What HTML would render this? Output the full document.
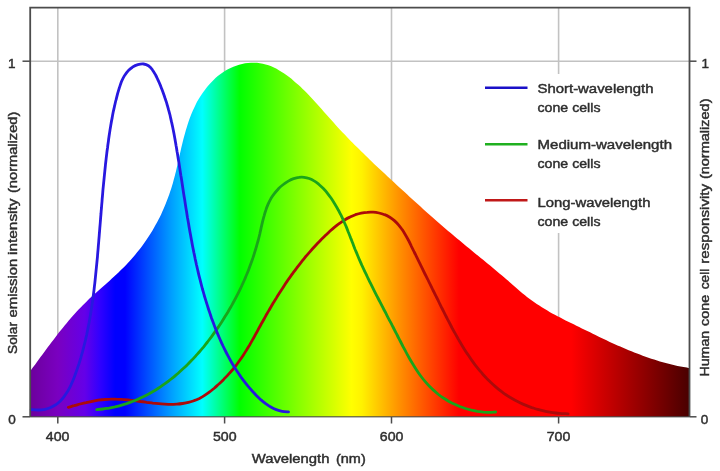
<!DOCTYPE html>
<html><head><meta charset="utf-8"><title>Solar emission and cone cell responsivity</title>
<style>
html,body{margin:0;padding:0;background:#fff;}
body{width:720px;height:471px;overflow:hidden;}
svg{display:block;}
text{font-family:"Liberation Sans",sans-serif;fill:#2e2e2e;stroke:#2e2e2e;stroke-width:0.45px;}
</style></head><body>
<svg width="720" height="471" viewBox="0 0 720 471">
<defs>
<linearGradient id="sg" gradientUnits="userSpaceOnUse" x1="30" y1="0" x2="690" y2="0">
<stop offset="0" stop-color="#6c009c"/>
<stop offset="0.042" stop-color="#7a00c0"/>
<stop offset="0.083" stop-color="#6400e8"/>
<stop offset="0.106" stop-color="#3000ff"/>
<stop offset="0.129" stop-color="#0000ff"/>
<stop offset="0.144" stop-color="#0000ff"/>
<stop offset="0.215" stop-color="#00a0ff"/>
<stop offset="0.261" stop-color="#00ffff"/>
<stop offset="0.318" stop-color="#00ff00"/>
<stop offset="0.487" stop-color="#ffff00"/>
<stop offset="0.503" stop-color="#fff200"/>
<stop offset="0.56" stop-color="#ff9000"/>
<stop offset="0.65" stop-color="#ff0000"/>
<stop offset="0.82" stop-color="#ff0000"/>
<stop offset="1" stop-color="#480000"/>
</linearGradient>
</defs>
<rect width="720" height="471" fill="#fff"/>
<!-- grid -->
<g stroke="#c2c2c2" stroke-width="1.6" fill="none">
<line x1="57.8" y1="8" x2="57.8" y2="417"/>
<line x1="224.6" y1="8" x2="224.6" y2="417"/>
<line x1="391.5" y1="8" x2="391.5" y2="417"/>
<line x1="558.6" y1="8" x2="558.6" y2="417"/>
<line x1="30" y1="61.2" x2="690" y2="61.2"/>
</g>
<rect x="480" y="74" width="205" height="159" fill="#fff"/>
<path d="M30.0,371.5C30.6,370.7 32.4,368.3 33.6,366.6C34.8,365.0 36.0,363.4 37.1,361.7C38.3,360.1 39.5,358.5 40.7,356.8C41.9,355.2 43.1,353.6 44.3,351.9C45.5,350.3 46.7,348.7 47.9,347.1C49.1,345.4 50.3,343.8 51.5,342.2C52.7,340.6 54.0,339.0 55.2,337.4C56.4,335.8 57.7,334.2 58.9,332.6C60.2,331.0 61.4,329.4 62.7,327.9C64.0,326.3 65.3,324.7 66.6,323.2C67.9,321.6 69.2,320.1 70.5,318.6C71.8,317.0 73.1,315.5 74.5,314.0C75.8,312.5 77.2,311.0 78.6,309.6C80.0,308.1 81.3,306.6 82.8,305.2C84.2,303.8 85.6,302.3 87.1,300.9C88.5,299.5 90.0,298.2 91.5,296.8C92.9,295.4 94.4,294.1 96.0,292.7C97.5,291.4 99.0,290.0 100.5,288.7C102.0,287.3 103.5,286.0 105.1,284.7C106.6,283.3 108.1,282.0 109.6,280.7C111.1,279.3 112.6,278.0 114.1,276.6C115.6,275.2 117.0,273.8 118.5,272.4C119.9,271.0 121.4,269.6 122.8,268.2C124.2,266.8 125.6,265.3 127.0,263.9C128.4,262.4 129.7,260.9 131.1,259.4C132.4,257.9 133.7,256.4 135.0,254.9C136.3,253.3 137.6,251.8 138.8,250.2C140.1,248.6 141.3,247.0 142.5,245.4C143.7,243.8 144.8,242.2 146.0,240.5C147.1,238.9 148.2,237.2 149.3,235.5C150.4,233.8 151.5,232.1 152.5,230.4C153.5,228.7 154.5,226.9 155.5,225.1C156.5,223.4 157.5,221.6 158.4,219.8C159.3,218.0 160.2,216.2 161.1,214.4C161.9,212.5 162.8,210.7 163.6,208.8C164.4,207.0 165.2,205.1 165.9,203.2C166.7,201.4 167.4,199.5 168.1,197.6C168.8,195.7 169.5,193.7 170.1,191.8C170.8,189.9 171.4,188.0 172.0,186.0C172.6,184.1 173.1,182.1 173.6,180.2C174.2,178.2 174.7,176.2 175.2,174.3C175.7,172.3 176.2,170.3 176.6,168.4C177.1,166.4 177.5,164.4 178.0,162.4C178.5,160.4 178.9,158.5 179.3,156.5C179.8,154.5 180.2,152.5 180.7,150.5C181.1,148.6 181.6,146.6 182.1,144.6C182.5,142.7 183.0,140.7 183.5,138.8C184.0,136.8 184.5,134.9 185.1,132.9C185.6,131.0 186.2,129.1 186.8,127.2C187.4,125.3 188.0,123.3 188.6,121.5C189.3,119.6 190.0,117.7 190.7,115.8C191.4,114.0 192.2,112.1 193.0,110.3C193.8,108.5 194.6,106.7 195.5,104.9C196.4,103.1 197.4,101.3 198.4,99.6C199.4,97.8 200.5,96.1 201.6,94.4C202.7,92.7 203.9,91.0 205.2,89.4C206.4,87.8 207.7,86.2 209.0,84.7C210.4,83.1 211.8,81.6 213.3,80.2C214.7,78.8 216.2,77.4 217.8,76.1C219.4,74.8 221.0,73.6 222.7,72.5C224.4,71.3 226.1,70.3 227.9,69.3C229.7,68.3 231.5,67.5 233.4,66.7C235.3,65.9 237.2,65.2 239.1,64.7C241.1,64.1 243.1,63.7 245.1,63.3C247.0,63.0 249.0,62.8 251.0,62.7C253.0,62.6 255.0,62.6 257.0,62.8C258.9,63.0 260.9,63.3 262.8,63.7C264.7,64.1 266.6,64.7 268.5,65.3C270.3,65.9 272.2,66.7 273.9,67.6C275.7,68.4 277.5,69.4 279.2,70.4C280.9,71.4 282.6,72.5 284.2,73.6C285.9,74.7 287.5,75.9 289.1,77.1C290.7,78.3 292.2,79.6 293.8,80.9C295.3,82.2 296.8,83.5 298.3,84.8C299.8,86.2 301.3,87.6 302.7,89.0C304.2,90.4 305.6,91.8 307.1,93.3C308.5,94.7 309.9,96.2 311.3,97.7C312.7,99.2 314.1,100.7 315.4,102.2C316.8,103.7 318.2,105.3 319.5,106.8C320.9,108.3 322.3,109.9 323.6,111.4C325.0,113.0 326.3,114.5 327.7,116.0C329.0,117.6 330.4,119.1 331.8,120.6C333.1,122.2 334.5,123.7 335.9,125.2C337.2,126.7 338.6,128.2 340.0,129.7C341.4,131.2 342.8,132.6 344.2,134.1C345.6,135.6 347.0,137.0 348.4,138.5C349.8,139.9 351.2,141.4 352.6,142.8C354.0,144.2 355.4,145.7 356.9,147.1C358.3,148.5 359.7,149.9 361.1,151.3C362.6,152.7 364.0,154.1 365.5,155.5C366.9,156.9 368.3,158.3 369.8,159.7C371.2,161.1 372.7,162.5 374.1,163.9C375.6,165.2 377.1,166.6 378.5,168.0C380.0,169.4 381.4,170.7 382.9,172.1C384.4,173.5 385.8,174.8 387.3,176.2C388.8,177.6 390.3,178.9 391.7,180.3C393.2,181.7 394.7,183.0 396.2,184.4C397.6,185.8 399.1,187.1 400.6,188.5C402.1,189.9 403.6,191.2 405.1,192.6C406.5,194.0 408.0,195.3 409.5,196.7C411.0,198.0 412.5,199.4 414.0,200.8C415.5,202.1 417.0,203.5 418.5,204.8C420.0,206.2 421.5,207.5 423.0,208.9C424.5,210.2 426.0,211.6 427.5,212.9C429.1,214.3 430.6,215.6 432.1,216.9C433.6,218.3 435.1,219.6 436.6,220.9C438.2,222.3 439.7,223.6 441.2,224.9C442.7,226.3 444.3,227.6 445.8,228.9C447.3,230.2 448.9,231.5 450.4,232.8C452.0,234.1 453.5,235.4 455.0,236.8C456.6,238.1 458.1,239.4 459.7,240.6C461.2,241.9 462.8,243.2 464.3,244.5C465.9,245.8 467.5,247.1 469.0,248.3C470.6,249.6 472.1,250.9 473.7,252.2C475.3,253.5 476.8,254.7 478.4,256.0C480.0,257.3 481.5,258.5 483.1,259.8C484.6,261.1 486.2,262.4 487.8,263.7C489.3,264.9 490.9,266.2 492.4,267.5C494.0,268.8 495.5,270.1 497.1,271.4C498.6,272.7 500.2,274.0 501.7,275.3C503.3,276.6 504.8,277.9 506.3,279.2C507.9,280.5 509.4,281.9 510.9,283.2C512.4,284.5 513.9,285.9 515.5,287.2C517.0,288.6 518.5,289.9 520.0,291.2C521.6,292.5 523.1,293.8 524.7,295.1C526.2,296.4 527.8,297.6 529.4,298.8C531.0,300.0 532.7,301.2 534.3,302.3C535.9,303.4 537.6,304.6 539.3,305.6C541.0,306.7 542.7,307.8 544.4,308.8C546.1,309.8 547.9,310.9 549.6,311.9C551.3,312.8 553.1,313.8 554.9,314.8C556.6,315.7 558.4,316.7 560.2,317.6C562.0,318.5 563.8,319.5 565.6,320.4C567.4,321.3 569.2,322.2 571.0,323.1C572.8,324.0 574.6,324.9 576.4,325.8C578.3,326.7 580.1,327.6 581.9,328.5C583.7,329.4 585.5,330.3 587.3,331.1C589.2,332.0 591.0,332.9 592.8,333.8C594.6,334.7 596.4,335.6 598.3,336.5C600.1,337.3 601.9,338.2 603.7,339.1C605.6,339.9 607.4,340.8 609.2,341.7C611.1,342.5 612.9,343.3 614.8,344.2C616.6,345.0 618.4,345.8 620.3,346.6C622.1,347.4 624.0,348.2 625.9,349.0C627.7,349.8 629.6,350.6 631.5,351.3C633.3,352.1 635.2,352.8 637.1,353.6C639.0,354.3 640.8,355.0 642.7,355.7C644.6,356.4 646.5,357.1 648.4,357.7C650.3,358.4 652.2,359.0 654.1,359.6C656.1,360.2 658.0,360.8 659.9,361.4C661.9,362.0 663.8,362.5 665.7,363.0C667.7,363.5 669.6,364.0 671.6,364.5C673.6,365.0 675.5,365.4 677.5,365.9C679.5,366.3 681.5,366.7 683.5,367.0C685.5,367.4 688.5,367.9 689.5,368.1L689.5,417L30,417Z" fill="url(#sg)"/>
<g fill="none" stroke-width="2.8" stroke-linecap="round" stroke-linejoin="round">
<path d="M68.3,407.3C69.3,407.1 72.2,406.2 74.2,405.7C76.2,405.1 78.2,404.6 80.2,404.0C82.2,403.5 84.2,403.0 86.2,402.6C88.2,402.1 90.2,401.7 92.2,401.3C94.2,400.9 96.2,400.5 98.2,400.2C100.2,399.9 102.2,399.6 104.2,399.5C106.2,399.3 108.2,399.1 110.2,399.1C112.2,399.0 114.2,399.0 116.2,399.1C118.2,399.1 120.2,399.2 122.2,399.4C124.2,399.5 126.2,399.7 128.2,399.9C130.3,400.1 132.3,400.4 134.3,400.6C136.3,400.9 138.3,401.2 140.4,401.5C142.4,401.7 144.4,402.0 146.5,402.3C148.5,402.5 150.5,402.8 152.6,403.1C154.6,403.3 156.7,403.5 158.7,403.7C160.7,403.9 162.8,404.0 164.8,404.1C166.8,404.2 168.8,404.3 170.8,404.3C172.8,404.3 174.8,404.2 176.8,404.1C178.7,404.0 180.7,403.8 182.6,403.5C184.6,403.2 186.5,402.9 188.4,402.4C190.3,401.9 192.1,401.4 194.0,400.7C195.8,400.1 197.6,399.3 199.4,398.4C201.1,397.5 202.9,396.5 204.6,395.4C206.3,394.3 208.0,393.2 209.6,391.9C211.3,390.7 212.9,389.3 214.5,388.0C216.1,386.6 217.6,385.2 219.2,383.8C220.7,382.4 222.2,380.9 223.7,379.4C225.1,377.9 226.6,376.4 228.0,374.9C229.4,373.4 230.7,371.8 232.1,370.3C233.4,368.7 234.7,367.1 236.0,365.5C237.2,363.8 238.4,362.2 239.6,360.5C240.8,358.9 242.0,357.2 243.1,355.5C244.2,353.8 245.3,352.1 246.3,350.4C247.4,348.7 248.4,346.9 249.5,345.2C250.5,343.5 251.5,341.7 252.5,339.9C253.5,338.2 254.5,336.4 255.4,334.6C256.4,332.9 257.4,331.1 258.3,329.3C259.3,327.6 260.3,325.8 261.2,324.0C262.2,322.3 263.2,320.5 264.2,318.7C265.2,317.0 266.1,315.2 267.1,313.5C268.1,311.7 269.2,310.0 270.2,308.2C271.2,306.5 272.2,304.8 273.2,303.0C274.3,301.3 275.3,299.6 276.4,297.9C277.4,296.2 278.5,294.5 279.6,292.8C280.7,291.1 281.8,289.4 282.9,287.7C284.0,286.0 285.1,284.3 286.2,282.6C287.3,281.0 288.5,279.3 289.7,277.7C290.8,276.0 292.0,274.4 293.2,272.7C294.4,271.1 295.6,269.5 296.8,267.9C298.0,266.2 299.3,264.6 300.5,263.1C301.8,261.5 303.0,259.9 304.3,258.3C305.6,256.7 306.9,255.2 308.3,253.6C309.6,252.1 311.0,250.5 312.3,249.0C313.7,247.5 315.1,246.0 316.5,244.5C317.9,243.0 319.4,241.5 320.8,240.0C322.3,238.5 323.8,237.1 325.3,235.6C326.8,234.2 328.3,232.7 329.8,231.3C331.4,229.9 333.0,228.5 334.6,227.2C336.2,225.9 337.8,224.6 339.5,223.4C341.2,222.2 342.9,221.0 344.6,220.0C346.3,218.9 348.1,217.9 349.9,217.1C351.7,216.2 353.6,215.4 355.4,214.7C357.3,214.1 359.3,213.5 361.2,213.1C363.2,212.7 365.2,212.4 367.2,212.3C369.2,212.1 371.2,212.1 373.1,212.2C375.1,212.3 377.1,212.6 379.0,213.0C380.9,213.4 382.8,214.0 384.6,214.7C386.4,215.3 388.1,216.2 389.8,217.2C391.4,218.2 392.9,219.3 394.4,220.6C395.8,221.9 397.2,223.3 398.5,224.8C399.8,226.3 401.0,228.0 402.2,229.6C403.3,231.3 404.4,233.1 405.5,234.9C406.6,236.7 407.6,238.6 408.6,240.5C409.6,242.4 410.5,244.4 411.4,246.3C412.4,248.2 413.3,250.1 414.2,252.0C415.2,253.9 416.1,255.8 417.0,257.6C417.9,259.5 418.8,261.3 419.7,263.1C420.6,265.0 421.5,266.8 422.4,268.6C423.2,270.4 424.1,272.2 425.0,274.0C425.9,275.8 426.8,277.5 427.7,279.3C428.5,281.1 429.4,282.9 430.3,284.6C431.2,286.4 432.1,288.2 432.9,290.0C433.8,291.7 434.7,293.5 435.6,295.3C436.5,297.1 437.4,298.9 438.3,300.7C439.1,302.5 440.0,304.3 440.9,306.1C441.8,307.9 442.8,309.7 443.7,311.6C444.6,313.4 445.5,315.2 446.4,317.0C447.4,318.9 448.3,320.7 449.3,322.5C450.2,324.3 451.2,326.2 452.1,328.0C453.1,329.8 454.1,331.6 455.1,333.4C456.1,335.2 457.1,337.0 458.1,338.8C459.2,340.6 460.2,342.4 461.3,344.2C462.3,345.9 463.4,347.7 464.5,349.4C465.6,351.2 466.7,352.9 467.9,354.6C469.0,356.3 470.1,358.0 471.3,359.6C472.5,361.3 473.7,363.0 474.9,364.6C476.2,366.2 477.4,367.8 478.7,369.3C480.0,370.9 481.3,372.4 482.6,374.0C483.9,375.5 485.3,376.9 486.7,378.4C488.1,379.8 489.5,381.2 490.9,382.6C492.4,384.0 493.9,385.3 495.4,386.6C496.9,387.9 498.4,389.2 500.0,390.4C501.6,391.7 503.2,392.8 504.8,394.0C506.5,395.1 508.2,396.2 509.9,397.3C511.6,398.3 513.3,399.3 515.1,400.3C516.9,401.2 518.7,402.1 520.5,403.0C522.4,403.9 524.2,404.7 526.1,405.4C528.0,406.2 529.9,406.9 531.8,407.6C533.8,408.2 535.7,408.9 537.7,409.4C539.6,410.0 541.6,410.5 543.6,410.9C545.6,411.4 547.6,411.8 549.7,412.1C551.7,412.5 553.7,412.8 555.8,413.0C557.8,413.3 559.9,413.4 561.9,413.6C564.0,413.7 567.1,413.7 568.1,413.8" stroke="#ac0a0a"/>
<path d="M96.7,409.7C97.8,409.6 100.9,409.3 103.0,409.0C105.0,408.8 107.0,408.4 109.1,408.1C111.1,407.7 113.1,407.3 115.0,406.9C117.0,406.4 119.0,405.9 120.9,405.3C122.9,404.8 124.8,404.2 126.7,403.6C128.6,402.9 130.5,402.2 132.4,401.5C134.2,400.8 136.1,400.0 137.9,399.2C139.7,398.4 141.5,397.6 143.3,396.7C145.1,395.8 146.9,394.9 148.7,394.0C150.4,393.0 152.1,392.0 153.9,391.0C155.6,390.0 157.3,388.9 159.0,387.8C160.6,386.7 162.3,385.6 163.9,384.4C165.6,383.3 167.2,382.1 168.8,380.9C170.4,379.6 172.0,378.4 173.6,377.1C175.1,375.8 176.7,374.5 178.2,373.2C179.7,371.9 181.2,370.5 182.7,369.1C184.2,367.7 185.7,366.3 187.1,364.9C188.6,363.5 190.0,362.0 191.4,360.5C192.9,359.1 194.3,357.6 195.6,356.1C197.0,354.5 198.4,353.0 199.7,351.5C201.0,349.9 202.4,348.3 203.7,346.8C205.0,345.2 206.2,343.6 207.5,342.0C208.8,340.3 210.0,338.7 211.2,337.1C212.4,335.4 213.6,333.8 214.8,332.1C216.0,330.4 217.2,328.7 218.3,327.1C219.5,325.4 220.6,323.7 221.7,322.0C222.8,320.3 223.9,318.6 224.9,316.8C226.0,315.1 227.1,313.4 228.1,311.7C229.1,309.9 230.1,308.2 231.1,306.5C232.1,304.7 233.1,303.0 234.0,301.2C235.0,299.5 235.9,297.7 236.8,295.9C237.7,294.2 238.6,292.4 239.5,290.6C240.4,288.8 241.2,287.0 242.0,285.2C242.9,283.4 243.7,281.6 244.5,279.8C245.3,278.0 246.0,276.1 246.8,274.3C247.6,272.4 248.3,270.6 249.0,268.7C249.7,266.9 250.4,265.0 251.1,263.1C251.8,261.2 252.4,259.4 253.1,257.4C253.7,255.5 254.3,253.6 254.9,251.7C255.5,249.8 256.1,247.8 256.6,245.9C257.2,243.9 257.7,242.0 258.3,240.0C258.8,238.0 259.3,236.0 259.8,234.0C260.2,232.0 260.7,230.0 261.1,227.9C261.6,225.9 262.0,223.9 262.5,221.9C263.0,219.8 263.5,217.8 264.1,215.8C264.6,213.8 265.2,211.8 265.9,209.9C266.5,207.9 267.3,206.0 268.1,204.1C268.9,202.2 269.9,200.4 270.9,198.6C272.0,196.8 273.2,195.0 274.5,193.4C275.7,191.7 277.2,190.1 278.6,188.6C280.1,187.1 281.7,185.7 283.3,184.5C284.9,183.2 286.6,182.1 288.3,181.1C290.1,180.1 291.8,179.3 293.6,178.7C295.4,178.1 297.1,177.6 298.9,177.4C300.7,177.1 302.4,177.1 304.1,177.3C305.9,177.5 307.6,177.9 309.2,178.5C310.9,179.1 312.5,179.9 314.1,180.9C315.7,181.8 317.2,183.0 318.7,184.2C320.2,185.5 321.7,186.9 323.1,188.3C324.6,189.8 326.0,191.4 327.3,193.1C328.6,194.8 329.9,196.5 331.2,198.3C332.4,200.1 333.6,202.0 334.8,203.9C335.9,205.7 337.0,207.6 338.0,209.5C339.1,211.4 340.0,213.3 341.0,215.2C341.9,217.1 342.8,219.0 343.6,220.8C344.5,222.7 345.3,224.6 346.1,226.4C346.9,228.3 347.6,230.2 348.3,232.0C349.1,233.9 349.8,235.7 350.5,237.6C351.3,239.4 352.0,241.3 352.7,243.1C353.4,245.0 354.1,246.8 354.8,248.7C355.6,250.5 356.3,252.3 357.1,254.1C357.9,256.0 358.6,257.8 359.4,259.6C360.2,261.4 361.0,263.2 361.8,265.1C362.7,266.9 363.5,268.7 364.3,270.5C365.2,272.3 366.0,274.1 366.9,275.9C367.8,277.7 368.6,279.5 369.5,281.3C370.4,283.1 371.3,284.9 372.2,286.7C373.1,288.5 374.0,290.3 374.9,292.1C375.8,293.9 376.7,295.7 377.7,297.5C378.6,299.3 379.5,301.1 380.5,302.9C381.4,304.7 382.3,306.5 383.3,308.3C384.2,310.1 385.2,311.9 386.1,313.7C387.0,315.6 388.0,317.4 388.9,319.2C389.9,321.0 390.8,322.8 391.8,324.6C392.7,326.4 393.7,328.2 394.6,330.1C395.5,331.9 396.5,333.7 397.4,335.5C398.3,337.4 399.3,339.2 400.2,341.0C401.1,342.8 402.1,344.7 403.0,346.5C404.0,348.3 404.9,350.1 405.9,351.9C406.9,353.7 407.8,355.5 408.8,357.3C409.8,359.1 410.8,360.8 411.9,362.6C412.9,364.3 414.0,366.0 415.1,367.7C416.2,369.4 417.3,371.1 418.4,372.7C419.5,374.3 420.7,376.0 421.9,377.5C423.1,379.1 424.4,380.6 425.7,382.1C427.0,383.6 428.3,385.1 429.7,386.5C431.1,387.9 432.5,389.3 434.0,390.6C435.4,392.0 437.0,393.3 438.5,394.5C440.1,395.7 441.8,396.9 443.4,398.0C445.1,399.1 446.9,400.2 448.6,401.2C450.4,402.2 452.2,403.2 454.1,404.0C455.9,404.9 457.8,405.7 459.7,406.5C461.6,407.2 463.6,407.9 465.5,408.5C467.5,409.2 469.4,409.7 471.4,410.2C473.4,410.6 475.4,411.0 477.5,411.4C479.5,411.7 481.5,411.9 483.5,412.1C485.5,412.2 487.6,412.3 489.6,412.3C491.6,412.3 494.6,412.0 495.6,412.0" stroke="#1aa41a"/>
<path d="M31.2,409.6C32.4,409.7 36.2,410.1 38.5,410.0C40.8,410.0 43.0,409.7 45.0,409.3C47.0,408.9 48.9,408.3 50.7,407.5C52.5,406.7 54.1,405.8 55.7,404.8C57.3,403.7 58.7,402.5 60.1,401.2C61.4,399.9 62.7,398.5 63.9,396.9C65.0,395.4 66.1,393.8 67.2,392.1C68.2,390.4 69.2,388.7 70.1,386.9C71.0,385.1 71.8,383.2 72.6,381.3C73.4,379.4 74.2,377.4 74.9,375.5C75.6,373.5 76.3,371.6 77.0,369.6C77.7,367.6 78.3,365.7 79.0,363.7C79.6,361.8 80.2,359.8 80.8,357.8C81.3,355.9 81.9,353.9 82.5,351.9C83.0,350.0 83.5,348.0 84.0,346.0C84.5,344.1 85.0,342.1 85.5,340.1C85.9,338.1 86.4,336.2 86.8,334.2C87.2,332.2 87.6,330.2 88.0,328.3C88.4,326.3 88.8,324.3 89.2,322.3C89.5,320.3 89.9,318.3 90.2,316.4C90.6,314.4 90.9,312.4 91.2,310.4C91.5,308.4 91.8,306.4 92.1,304.4C92.4,302.4 92.7,300.4 92.9,298.5C93.2,296.5 93.5,294.5 93.7,292.5C94.0,290.5 94.2,288.5 94.4,286.5C94.7,284.5 94.9,282.5 95.1,280.4C95.3,278.4 95.5,276.4 95.7,274.4C95.9,272.4 96.1,270.4 96.3,268.4C96.5,266.4 96.7,264.4 96.9,262.3C97.1,260.3 97.3,258.3 97.5,256.3C97.6,254.3 97.8,252.2 98.0,250.2C98.2,248.2 98.3,246.2 98.5,244.2C98.7,242.1 98.8,240.1 99.0,238.1C99.2,236.0 99.3,234.0 99.5,232.0C99.7,230.0 99.8,227.9 100.0,225.9C100.2,223.9 100.3,221.9 100.5,219.8C100.6,217.8 100.8,215.8 101.0,213.7C101.1,211.7 101.3,209.7 101.5,207.7C101.6,205.6 101.8,203.6 102.0,201.6C102.1,199.6 102.3,197.5 102.5,195.5C102.7,193.5 102.8,191.5 103.0,189.4C103.2,187.4 103.4,185.4 103.6,183.4C103.8,181.4 104.0,179.3 104.2,177.3C104.4,175.3 104.6,173.3 104.8,171.3C105.0,169.3 105.2,167.3 105.4,165.3C105.6,163.2 105.9,161.2 106.1,159.2C106.3,157.2 106.6,155.2 106.8,153.2C107.0,151.2 107.3,149.2 107.6,147.2C107.8,145.3 108.1,143.3 108.4,141.3C108.6,139.3 108.9,137.3 109.2,135.3C109.5,133.3 109.8,131.4 110.1,129.4C110.4,127.4 110.8,125.4 111.1,123.5C111.4,121.5 111.8,119.5 112.2,117.6C112.5,115.6 112.9,113.6 113.3,111.6C113.7,109.7 114.2,107.7 114.6,105.7C115.1,103.7 115.5,101.7 116.1,99.7C116.6,97.7 117.1,95.7 117.6,93.7C118.2,91.7 118.8,89.6 119.4,87.6C120.1,85.6 120.7,83.6 121.5,81.6C122.3,79.7 123.2,77.8 124.2,76.1C125.3,74.3 126.4,72.6 127.8,71.2C129.1,69.7 130.7,68.3 132.4,67.2C134.0,66.1 136.0,65.1 137.9,64.6C139.8,64.1 141.8,63.8 143.6,64.0C145.3,64.2 147.1,64.9 148.5,65.8C150.0,66.8 151.3,68.2 152.4,69.8C153.6,71.3 154.6,73.2 155.6,75.0C156.6,76.8 157.4,78.8 158.3,80.7C159.2,82.6 160.0,84.5 160.8,86.4C161.5,88.3 162.3,90.3 163.0,92.2C163.7,94.1 164.4,96.0 165.0,98.0C165.7,99.9 166.3,101.9 166.9,103.8C167.4,105.7 168.0,107.7 168.5,109.7C169.1,111.6 169.6,113.6 170.1,115.5C170.5,117.5 171.0,119.5 171.4,121.4C171.9,123.4 172.3,125.4 172.7,127.3C173.1,129.3 173.5,131.3 173.9,133.3C174.3,135.3 174.6,137.2 175.0,139.2C175.3,141.2 175.7,143.2 176.0,145.2C176.4,147.2 176.7,149.2 177.0,151.2C177.4,153.2 177.7,155.2 178.0,157.2C178.3,159.2 178.7,161.2 179.0,163.2C179.3,165.2 179.6,167.2 179.9,169.2C180.2,171.2 180.5,173.2 180.8,175.2C181.2,177.2 181.5,179.2 181.8,181.2C182.1,183.2 182.4,185.2 182.7,187.2C183.0,189.2 183.3,191.2 183.6,193.2C183.9,195.2 184.2,197.2 184.6,199.2C184.9,201.2 185.2,203.2 185.5,205.2C185.8,207.2 186.1,209.2 186.5,211.2C186.8,213.2 187.1,215.2 187.4,217.2C187.8,219.2 188.1,221.2 188.5,223.2C188.8,225.2 189.1,227.2 189.5,229.2C189.8,231.2 190.2,233.2 190.6,235.2C190.9,237.2 191.3,239.2 191.7,241.2C192.0,243.2 192.4,245.2 192.8,247.2C193.2,249.1 193.6,251.1 194.0,253.1C194.4,255.1 194.8,257.1 195.2,259.1C195.7,261.0 196.1,263.0 196.5,265.0C197.0,266.9 197.4,268.9 197.9,270.9C198.3,272.8 198.8,274.8 199.3,276.8C199.8,278.7 200.3,280.7 200.8,282.6C201.3,284.6 201.8,286.5 202.3,288.5C202.9,290.4 203.4,292.4 204.0,294.3C204.5,296.3 205.1,298.2 205.7,300.1C206.3,302.1 206.9,304.0 207.5,305.9C208.1,307.8 208.7,309.8 209.4,311.7C210.0,313.6 210.7,315.5 211.3,317.4C212.0,319.3 212.7,321.2 213.4,323.1C214.1,325.0 214.9,326.9 215.6,328.8C216.3,330.7 217.1,332.5 217.9,334.4C218.7,336.3 219.5,338.1 220.3,340.0C221.1,341.9 222.0,343.7 222.8,345.5C223.7,347.4 224.6,349.2 225.5,351.0C226.4,352.8 227.3,354.6 228.3,356.4C229.2,358.2 230.2,360.0 231.2,361.7C232.2,363.5 233.2,365.2 234.3,367.0C235.4,368.7 236.5,370.4 237.6,372.1C238.7,373.8 239.8,375.4 241.0,377.1C242.2,378.7 243.4,380.3 244.6,381.9C245.8,383.5 247.1,385.1 248.4,386.7C249.7,388.2 251.0,389.7 252.4,391.2C253.8,392.7 255.2,394.2 256.6,395.7C258.0,397.1 259.5,398.5 261.0,399.9C262.5,401.2 264.1,402.5 265.7,403.7C267.4,404.9 269.0,406.0 270.8,407.0C272.5,408.0 274.3,408.9 276.2,409.6C278.1,410.3 280.0,410.9 282.1,411.3C284.1,411.7 287.4,411.8 288.5,411.9" stroke="#2818e0"/>
</g>
<!-- frame -->
<g stroke="#4c4c4c" stroke-width="1.8" fill="none">
<path d="M30.2,417 V7.6 H689.5 V417"/>
<line x1="30" y1="416.8" x2="689.6" y2="416.8" stroke-opacity="0.75" stroke-width="1.4"/>
<g stroke-width="1.5">
<line x1="22.5" y1="61.2" x2="30" y2="61.2"/>
<line x1="22.5" y1="416.8" x2="30" y2="416.8"/>
<line x1="689.6" y1="61.2" x2="696.5" y2="61.2"/>
<line x1="689.6" y1="416.8" x2="696.5" y2="416.8"/>
<line x1="57.8" y1="417" x2="57.8" y2="423.5"/>
<line x1="224.6" y1="417" x2="224.6" y2="423.5"/>
<line x1="391.5" y1="417" x2="391.5" y2="423.5"/>
<line x1="558.6" y1="417" x2="558.6" y2="423.5"/>
</g>
</g>
<!-- legend -->
<g stroke-width="2.6" fill="none">
<line x1="485" y1="87.8" x2="527.5" y2="87.8" stroke="#1a10c8"/>
<line x1="485" y1="144.2" x2="527.5" y2="144.2" stroke="#20b020"/>
<line x1="485" y1="200.2" x2="527.5" y2="200.2" stroke="#c01818"/>
</g>
<g font-size="13.3">
<text x="537.5" y="93.3" textLength="116" lengthAdjust="spacingAndGlyphs">Short-wavelength</text>
<text x="537.5" y="112" textLength="63" lengthAdjust="spacingAndGlyphs">cone cells</text>
<text x="537.5" y="149.3" textLength="134.5" lengthAdjust="spacingAndGlyphs">Medium-wavelength</text>
<text x="537.5" y="168" textLength="63" lengthAdjust="spacingAndGlyphs">cone cells</text>
<text x="537.5" y="207.3" textLength="113" lengthAdjust="spacingAndGlyphs">Long-wavelength</text>
<text x="537.5" y="225.8" textLength="63" lengthAdjust="spacingAndGlyphs">cone cells</text>
</g>
<!-- tick labels -->
<g font-size="13.5" text-anchor="middle">
<text x="11.8" y="67.6">1</text>
<text x="12" y="423.7">0</text>
<text x="705.3" y="67.6">1</text>
<text x="704.5" y="423.7">0</text>
<text x="57.6" y="441.2" textLength="23.6" lengthAdjust="spacingAndGlyphs">400</text>
<text x="224.8" y="441.2" textLength="23.6" lengthAdjust="spacingAndGlyphs">500</text>
<text x="391.6" y="441.2" textLength="23.6" lengthAdjust="spacingAndGlyphs">600</text>
<text x="558.5" y="441.2" textLength="23.6" lengthAdjust="spacingAndGlyphs">700</text>
</g>
<g font-size="13.3">
<text x="251.7" y="463.3" textLength="77.8" lengthAdjust="spacingAndGlyphs">Wavelength</text>
<text x="336" y="463.3" textLength="29.7" lengthAdjust="spacingAndGlyphs">(nm)</text>
<text transform="translate(17,354) rotate(-90)" textLength="32.0" lengthAdjust="spacingAndGlyphs">Solar</text>
<text transform="translate(17,317.5) rotate(-90)" textLength="58.8" lengthAdjust="spacingAndGlyphs">emission</text>
<text transform="translate(17,255) rotate(-90)" textLength="56.5" lengthAdjust="spacingAndGlyphs">intensity</text>
<text transform="translate(17,193) rotate(-90)" textLength="81.3" lengthAdjust="spacingAndGlyphs">(normalized)</text>
<text transform="translate(709.4,376.6) rotate(-90)" textLength="45.9" lengthAdjust="spacingAndGlyphs">Human</text>
<text transform="translate(709.4,326) rotate(-90)" textLength="31.2" lengthAdjust="spacingAndGlyphs">cone</text>
<text transform="translate(709.4,289.3) rotate(-90)" textLength="20.7" lengthAdjust="spacingAndGlyphs">cell</text>
<text transform="translate(709.4,263.8) rotate(-90)" textLength="79.9" lengthAdjust="spacingAndGlyphs">responsivity</text>
<text transform="translate(709.4,179.1) rotate(-90)" textLength="80.6" lengthAdjust="spacingAndGlyphs">(normalized)</text>
</g>
</svg>
</body></html>
